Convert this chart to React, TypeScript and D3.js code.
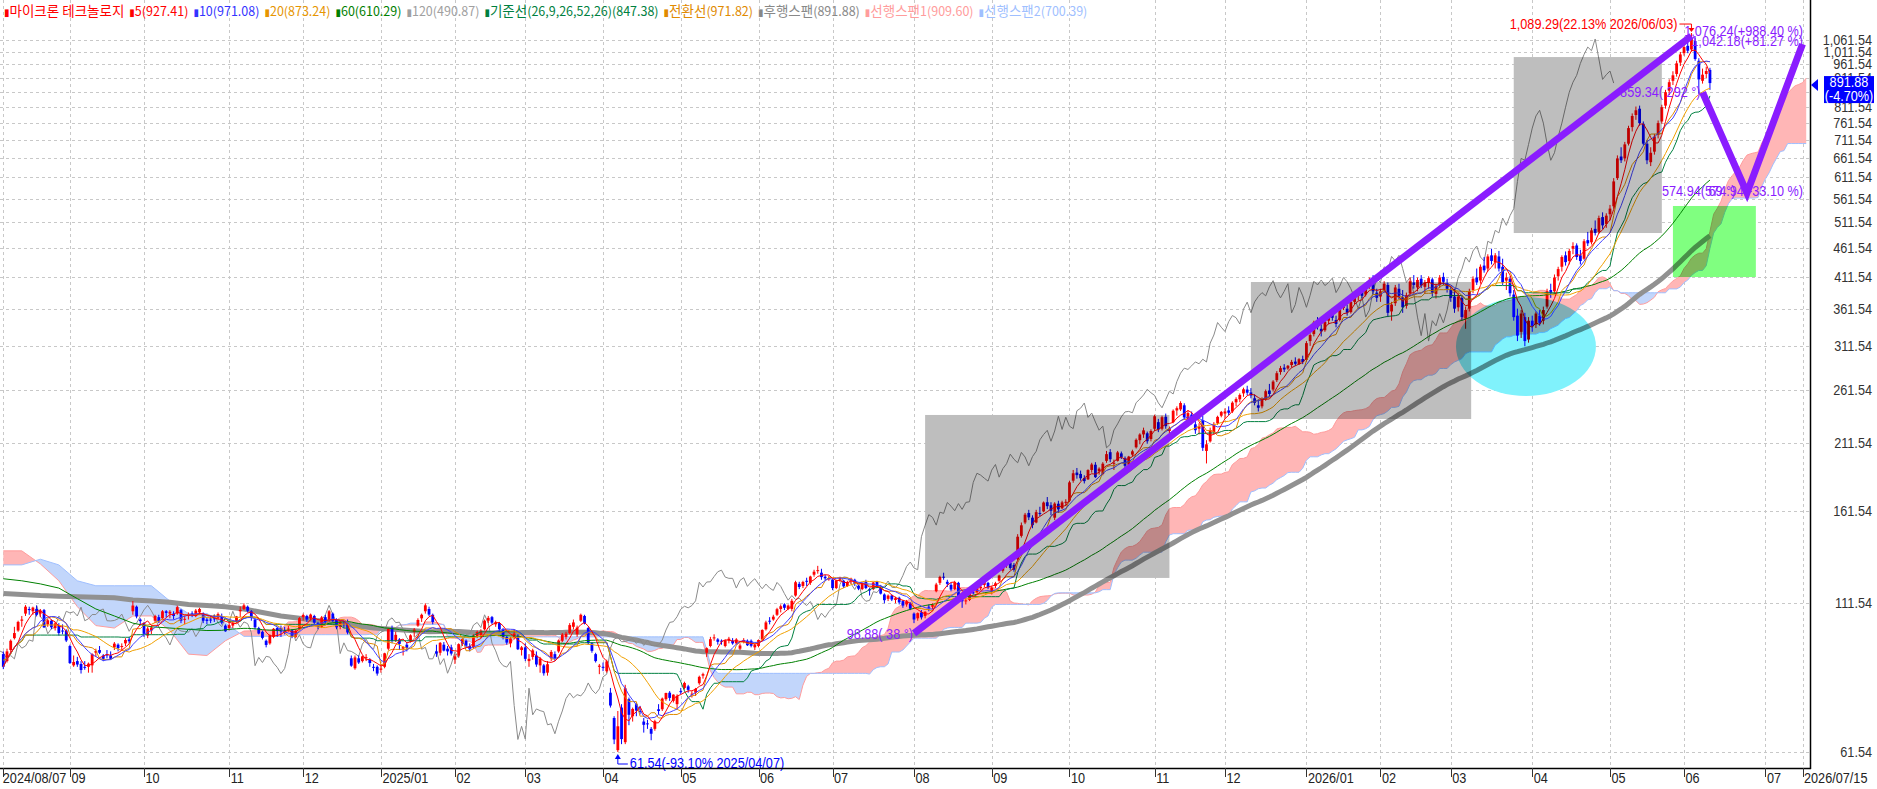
import React from 'react';
import * as d3 from 'd3';

type C = [number, number, number, number]; // open, high, low, close

// daily candles, one array per month
const aug24: C[] = [[91,92,85.7,86.5],[88.5,93,88,92],[92.5,96.5,91.5,96],[97,101.5,96.5,99],[100,104,99.5,103.5],[104,106,101.5,104.5],[107,110.7,106,110],[109,110,106.5,108.5],[108,110,106.5,109.6],[109,110.5,105.8,106.5],[107,109,105.5,108.2],[108.5,109,101,101.3],[102.5,104.8,101.5,104.2],[104,104.5,100.5,101.3],[101,103.5,100,102.9],[102,103,98,99],[100,102.5,98.5,99.6],[100,100.5,95.5,96.1]];
const sep24: C[] = [[94,94.5,87.5,87.8],[87,90.5,86.5,88.2],[88.5,90,86.5,87.3],[87.5,88.5,84.2,85.4],[86.5,88.5,85.5,86.2],[86.5,88,84.5,87.6],[87,91.3,84.5,91],[91.5,93,90,92.2],[92.5,94,91,91.5],[90.5,91,88.5,89.3],[91,92.5,89.5,90.5],[90.5,92,89,89.3],[93.5,95.5,92.5,94.9],[94.5,95,92,93.2],[94,95,92.5,94],[95,97,94,96.3],[96.5,97.5,95,95.8],[108,112.5,106.5,110.5],[110,110.5,105,105.8],[104.5,105,102,103.8]];
const oct24: C[] = [[103,103.5,97.5,98.7],[98,101.5,97,100.8],[100,102,98.5,101.2],[104,106.5,103,106],[105.5,106.5,103,103.8],[105,108.5,104.5,108],[108,108.5,105.5,107.3],[107,108.5,105,107.8],[107,108,104.5,106],[107,110.5,106.5,109.8],[108.5,109,103,104],[104.5,106,102.5,104.8],[106,107.5,104.5,106.6],[107,108,105.5,106.6],[106,109,105.5,108.3],[107.5,109.5,106.5,109],[107,107.5,103,104],[104.5,105.5,102.5,103.9],[104.5,106,103,104.1],[105,106.5,103.5,104.8],[105,107.5,104.5,106.8],[106,107,102.5,103.2],[102,102.5,99.5,99.7]];
const nov24: C[] = [[101,103.5,100,102.2],[102,104,101,103],[103.5,106,103,105.8],[108,110,105.5,108.6],[109,111.5,108.5,110.6],[110,110.5,107.5,108.2],[108,108.5,104,105.2],[104.5,105,100.5,101.3],[101,101.5,98.5,98.8],[99.5,100,96.5,97.1],[96,96.5,93.5,94.4],[95,98.5,94.5,98.1],[97.5,101,97,100.7],[101,101.5,97.5,99.8],[101,102,97.5,99.6],[100,101.5,98.5,99.4],[100.5,102,99.5,100.8],[100,100.5,97,97.6],[97.5,100.5,97,99.9],[101,105.5,100.5,105.1]];
const dec24: C[] = [[105.5,107,104,106.4],[106,106.5,103.5,104.5],[105,107,104,106.6],[106,106.5,102.5,103.2],[103,103.5,100.5,101.5],[101.5,106,101,105.4],[105.5,106.5,103,103.5],[104,108.5,103.5,108],[107,107.5,103.5,103.9],[104.5,105,100.5,101.3],[101.5,104,100.5,103.5],[103,104,101,102.8],[103,104.5,98.5,99.2],[89.5,90.5,86.5,86.9],[86,90.5,85.5,89.8],[89.5,90.5,87.5,88],[88.5,90.5,88,90.2],[89.5,91,88.5,89.9],[89,89.5,86.5,87.8],[86.5,87.5,85,86.3],[86.5,87,83.5,84.2]];
const jan25: C[] = [[85.5,87.5,84.5,85.9],[86.5,91.5,86,91.3],[93,101,92.5,100.6],[101,102,95,95.9],[96,99.5,95.5,98.3],[96.5,97,92.5,94.8],[93,94,90.5,93.6],[94.5,95.5,92,93.3],[96,98.5,95.5,98.1],[99.5,101,97.5,100.4],[102,105,101.5,104.3],[105,107,103.5,106.5],[108,111.5,107,110.6],[109,110,106,106.6],[106.5,107,102.5,103.5],[92,94.5,90,91.2],[91.5,95.5,90.5,95.2],[94.5,95.5,92,92.3],[93,94,90.5,92],[93.5,94.5,90.5,91.2]];
const feb25: C[] = [[89,91,87.5,90.2],[90.5,95,90,94.7],[95,97,94,96.6],[96,96.5,93.5,94.1],[94,95,92,92.8],[93.5,98.5,93,98],[97.5,100,97,99.4],[98,100.5,97,99.9],[100.5,104.5,100,104],[104,106,103,105.2],[105.5,106,102.5,103.2],[102.5,104,101.5,103.4],[103,103.5,99.5,100.5],[100.5,101,96.5,97.2],[97.5,98,94.5,95.3],[95,97.5,93.5,96.9],[97.5,100.5,96.5,98.8],[98,98.5,92.5,92.8],[92.5,94,90.5,93.5]];
const mar25: C[] = [[93.5,95,88.5,89.3],[88.5,91,86.5,89.3],[90,93,89,92.4],[90.5,92,86.5,87.3],[87,90,84.5,89.4],[87,87.5,83.5,84.3],[84.5,88.5,83.5,87.4],[89.5,92.5,88.5,91.8],[91,92,88.5,89.6],[92,96.5,91.5,96.1],[96,99,95.5,98.4],[97.5,99.5,96.5,98.7],[99,103,98.5,102.2],[101.5,104.5,100.5,103.3],[98.5,102,97.5,101.2],[104,107,103.5,106.5],[106,106.5,102.5,103],[101,101.5,94.5,95.1],[95,95.5,91.5,92.2],[91,91.5,88,88.5],[86.5,87.5,84,86.9]];
const apr25: C[] = [[86.5,88,85,86.4],[85,89,84.5,88.4],[78,79.5,73.5,74.1],[70.5,71,63.5,64.7],[62,72.5,61.54,68.2],[73.5,74.5,63.5,64.8],[64,80.5,63.5,79.4],[76,76.5,68.5,71.4],[71,73.5,69.5,73.1],[74.5,75,71,72.6],[72.5,74,71.5,72.3],[69.5,70.5,66.5,68.6],[69,70,67.5,68.9],[67.5,68,64.5,66.2],[67.5,70,67,69.6],[73,74.5,71.5,72.5],[73,76.5,72.5,76.2],[76,78,75.5,77.9],[78,78.5,75.5,76.4],[75.5,77.5,75,77.4],[74.5,77.5,73,77]];
const may25: C[] = [[78.5,79.5,77.5,78.4],[79.5,81.5,79,81.1],[80,80.5,78,78.9],[77.5,78.5,76.5,77.7],[78,79.5,77,79.2],[81,83.5,80.5,83.1],[83.5,84.5,82.5,84],[91.5,93.5,90,93.2],[94,97.5,93.5,96.6],[97,98.5,96,97.3],[96.5,97,94.5,95.6],[96,96.5,94.5,95.7],[94,96.5,93.5,96.2],[96,97.5,95,96.8],[96,97,94.5,95],[95,97,94.5,96.5],[93,95,92.5,94.2],[96,97,95,96.3],[96,96.5,94,94.3],[96,96.5,93.5,94.1],[93.5,95,92.5,94.4]];
const jun25: C[] = [[94,96.5,93.5,96.3],[96.5,100.5,96,100.2],[100.5,104,100,103.3],[104,105.5,102.5,103.6],[104.5,106.5,104,105.7],[106.5,109.5,106,108.9],[109,111,107.5,110.2],[111,111.5,108.5,109.5],[109,111,108.5,110.5],[109,113.5,108,112.6],[115,122,114.5,121.3],[120.5,121.5,118,119],[119.5,122,118.5,121.4],[122,123.5,119.5,121.5],[121,124.5,120,124.1],[125,127.5,124,126.5],[127,129.5,125.5,127.3],[126,128,122.5,123.8],[124,125,122,123.2],[123,124.5,122,123.2]];
const jul25: C[] = [[122.5,123,117.5,118.5],[118.5,122.5,118,122.2],[122.5,124,121.5,123.5],[122,122.5,118.5,119.3],[119.5,122,119,121.4],[122,123.5,120.5,123],[122.5,123,119.5,120.4],[119.5,120,117.5,118.2],[118,121,117.5,120.4],[121.5,122.5,118,118.5],[118,118.5,115,117.4],[118,121.5,117.5,121.2],[121.5,122,118.5,119.3],[119.5,120,115.5,115.9],[115.5,116,111.5,112.9],[113.5,115.5,112.5,115],[115,115.5,112.5,113.2],[113,114.5,111.5,113.8],[114,114.5,111,111.9],[112.5,113,109.5,110.5],[111,113,110,112.3],[111.5,112,108.5,109.1]];
const aug25: C[] = [[107,107.5,103,104.5],[105,107.5,104,107.2],[107.5,108.5,104.5,105.4],[106,108,105,107.8],[110,111,108,109.6],[110,111.5,109,110.7],[117,121,116.5,120.2],[121,124.5,120,123.9],[124,126,122.5,123.6],[121.5,122.5,119,120.5],[120,121,117,117.8],[118,122,117.5,121.3],[121,121.5,113.5,114.2],[113,114.5,109.5,112.4],[112.5,114,111,112.8],[113,117.5,112.5,116.8],[116.5,118,115.5,116.4],[116.5,119,116,118.7],[118.5,120.5,117.5,119.2],[120,122.5,119,121.9],[121,121.5,118,118.9]];
const sep25: C[] = [[117,119.5,115.5,118.7],[119.5,121.5,118.5,120.8],[122,125,121.5,124.6],[127,130.5,126,129.2],[130,132.5,128.5,131.5],[131,132,127.5,128.4],[130,131,126.5,127.5],[133,147,132.5,145.5],[146,154,145,152.3],[154,160,153,158.9],[160,162,155.5,157.2],[157,158.5,150.5,152.4],[154,162,153.5,160.5],[160,164,158,159.7],[161,167.5,160.5,166.8],[167,170.5,162.5,164.4],[165,167,158.5,161.4],[157,167,155.5,166.1],[166,168,160,162.3],[163,168,162.5,166.9],[167,169,164.5,167.3]];
const oct25: C[] = [[168,182,167,180.8],[182,190,180.5,187.5],[188,191.5,183.5,186.1],[187,189.5,182,183.8],[184,186,180,181.7],[183,190.5,182.5,189.9],[190,195.5,188,194.2],[194,196,184,184.6],[189,192,186.5,191],[187,196,186,194.8],[197,205,195.5,202.4],[204,206.5,196,198.3],[195,198,190,195.5],[197,205,196.5,203.8],[203,204.5,198.5,200.1],[199,200.5,190.5,193.2],[194,201,193,200.4],[202,206,200.5,204.7],[208,215.5,207,214.3],[214,220,210.5,218.9],[219,225,216,222.6],[220,221.5,211,213.1],[215,223.5,213,222]];
const nov25: C[] = [[224,237,222,235.5],[230,233,221,223.4],[224,236,222.5,234.6],[235,238,224,226.3],[222,226,215,224.1],[230,242,229,240.7],[241,245,236,243.2],[242,250,240.5,248.3],[246,248,232,234.4],[230,241,226,238.5],[237,240,228,230.1],[228,231,219.5,222.7],[224,229,219,226.4],[232,236,205,207.6],[205,214,195,210.5],[213,225,212,222.8],[221,230,219,228.4],[229,236,227.5,234.9],[236,240.5,234.5,239.6]];
const dec25: C[] = [[238,243,233,240.1],[241,245,236.5,238.8],[240,250,238.5,248.6],[249,254,245,252.2],[252,258,249,256.4],[258,264,254.5,262.3],[262,266,256,258.7],[259,263.5,253,255.9],[253,257,246,248.4],[246,252,240,243.6],[245,254,243,251.8],[252,262,250.5,260.3],[261,268,255,257.4],[262,272,260,270.5],[272,282,270,279.7],[281,288,278,285.4],[286,290,281,283.9],[285,289,283.5,288.1],[289,295,286,292.6],[293,298,288,290.4],[290,297,289,295.8],[296,300,290,292.5]];
const jan26: C[] = [[295,318,293,315.4],[318,328,312,325.8],[327,345,324,342.5],[344,350,333,336.1],[334,340,324,330.4],[332,346,330,343.6],[345,356,340,352.2],[353,360,345,349.1],[346,352,336,340.5],[346,364,344,361.3],[363,375,360,371.6],[362,368,352,356.2],[357,374,355,371.9],[372,384,368,380],[381,390,374,386],[387,394,378,381],[383,398,380,395],[397,410,392,405],[406,414,384,388],[386,392,372,378]];
const feb26: C[] = [[380,392,372,388],[390,404,386,400],[398,402,350,356],[358,372,345,368],[370,398,366,394],[392,400,376,381],[379,390,356,364],[366,386,362,382],[385,410,381,404],[402,414,392,398],[394,410,388,406],[408,414,393,397],[395,406,384,402],[401,412,392,409],[407,410,380,386],[384,400,377,396],[398,414,393,410],[411,418,398,403],[401,408,386,392]];
const mar26: C[] = [[390,396,372,378],[380,392,356,362],[364,385,358,380],[378,382,345,350],[348,365,334,360],[362,392,358,388],[390,412,385,408],[410,425,398,402],[405,432,400,428],[430,445,418,422],[425,450,420,446],[448,460,432,438],[436,452,425,448],[446,456,420,425],[428,442,398,402],[405,418,390,410],[408,412,380,385],[383,390,345,350],[352,362,318,325],[330,360,322,355],[350,356,311.49,318],[320,350,316,345]];
const apr26: C[] = [[345,352,330,338],[340,358,335,355],[352,360,338,342],[345,365,340,360],[365,392,362,388],[390,400,378,385],[388,415,384,410],[412,428,405,424],[428,448,420,445],[448,455,430,436],[438,460,432,456],[460,472,450,465],[466,470,440,445],[448,458,432,438],[442,478,440,474],[476,492,465,470],[472,500,468,495],[498,515,485,490],[492,525,488,520],[522,532,498,505],[508,530,500,525]];
const may26: C[] = [[528,548,515,540],[545,610,540,602],[610,668,605.47,660],[665,690,648,655],[660,705,652,698],[700,752,695,745],[748,790,735,782],[785,812,770,800],[805,815,752,760],[758,765,695,700],[700,710,645,655],[650,690,640,675],[678,728,670,720],[725,768,715,760],[765,818,758,810],[815,868,805,860],[865,905,850,895],[900,935,885,920],[925,975,915,965],[968,1010,955,1000]];
const jun26: C[] = [[1005,1045,995,1030],[1035,1050,1005,1015],[1020,1089.29,1012,1063.75],[1055,1068,975,982],[975,985,854.35,905],[900,945,890,922.3],[925,952,910,935.87],[940,948,868,891.88]];

const candles: C[] = [...aug24, ...sep24, ...oct24, ...nov24, ...dec24, ...jan25, ...feb25, ...mar25, ...apr25, ...may25, ...jun25, ...jul25, ...aug25, ...sep25, ...oct25, ...nov25, ...dec25, ...jan26, ...feb26, ...mar26, ...apr26, ...may26, ...jun26];

// US market holidays inside the data range (future part of the axis counts all weekdays)
const holidays = ['2024-09-02','2024-11-28','2024-12-25','2025-01-01','2025-01-09','2025-01-20','2025-02-17','2025-04-18','2025-05-26','2025-06-19','2025-07-04','2025-09-01','2025-11-27','2025-12-25','2026-01-01','2026-01-19','2026-02-16','2026-04-03','2026-05-25'];

// long averages / cloud before their windows fill, read every 5 bars
const LEAD_STEP = 5;
const ma60Lead = [123, 122, 120.5, 118.5, 113.6, 109, 106, 103, 101.5, 101, 100.5, 100];
const ma120Lead = [116, 115.5, 115, 114.7, 114.5, 114.2, 114, 113, 112.5, 112, 111, 110.5, 110, 109, 107.5, 106, 105, 104, 103, 102, 101, 100.5, 100, 99.5];
const span1Lead = [137.5, 137.5, 130.5, 122, 110, 102, 101, 106, 106, 100, 91, 90.5, 96, 99.8, 100, 100.5];
const span2Lead = [130, 130, 133, 130, 122, 119.6, 119.6, 119.6, 119.6, 112.5, 107, 107, 103, 97.7, 97.7, 97.7];

const yTicks = [61.54, 111.54, 161.54, 211.54, 261.54, 311.54, 361.54, 411.54, 461.54, 511.54, 561.54, 611.54, 661.54, 711.54, 761.54, 811.54, 861.54, 911.54, 961.54, 1011.54, 1061.54];

const legend = [
  { ko: '마이크론 테크놀로지', rest: '', color: '#ff0000' },
  { ko: '', rest: '5(927.41)', color: '#ff0000' },
  { ko: '', rest: '10(971.08)', color: '#3333ff' },
  { ko: '', rest: '20(873.24)', color: '#e69500' },
  { ko: '', rest: '60(610.29)', color: '#008000' },
  { ko: '', rest: '120(490.87)', color: '#a0a0a0' },
  { ko: '기준선', rest: '(26,9,26,52,26)(847.38)', color: '#008040' },
  { ko: '전환선', rest: '(971.82)', color: '#e08a00' },
  { ko: '후행스팬', rest: '(891.88)', color: '#888888' },
  { ko: '선행스팬', rest: '1(909.60)', color: '#ff9c9c' },
  { ko: '선행스팬', rest: '2(700.39)', color: '#9fbfff' },
];

const changeText = '(-4.70%)';
const highNote = { i: 456, v: 1089.29, text: '1,089.29(22.13% 2026/06/03)' };
const lowNote = { i: 166, v: 61.54, text: '61.54(-93.10% 2025/04/07)' };

const trendLine = [{ i: 246, v: 98.88 }, { i: 456, v: 1076.24 }];
const vLine = [{ i: 459, v: 859.34 }, { i: 471, v: 574.94 }, { i: 486, v: 1042.18 }];
const greyBoxes = [
  { i0: 249, i1: 315, lo: 123.4, hi: 236.7 },
  { i0: 337, i1: 396.5, lo: 232.9, hi: 402.7 },
  { i0: 408, i1: 448, lo: 489.8, hi: 989.6 },
];
const greenBox = { i0: 451, i1: 473.4, lo: 410.8, hi: 545.7 };
const cyanEllipse = { i0: 392.4, i1: 430.2, lo: 255.3, hi: 379.2 };

const FONT = '"Liberation Sans Narrow", "Noto Sans CJK KR", "DejaVu Sans", sans-serif';
const AXIS_FONT = '"Liberation Sans", sans-serif';
const PURPLE = '#8a1cff';
const R = 1810, B = 768;

// condensed text, close to the terminal's narrow bitmap font
function CText(props: { x: number; y: number; anchor?: string; fill?: string; size?: number; children: React.ReactNode }) {
  const { x, y, anchor = 'start', fill = '#222', size = 14.5, children } = props;
  return (
    <text transform={`translate(${x},${y}) scale(0.875,1)`} textAnchor={anchor} fill={fill} fontSize={size} fontFamily={AXIS_FONT}>
      {children}
    </text>
  );
}

function buildDays() {
  const hol = new Set(holidays);
  const out: Date[] = [];
  const d = new Date(Date.UTC(2024, 7, 7));
  const end = Date.UTC(2026, 6, 15);
  while (d.getTime() <= end) {
    const wd = d.getUTCDay();
    if (wd !== 0 && wd !== 6 && !hol.has(d.toISOString().slice(0, 10))) out.push(new Date(d));
    d.setUTCDate(d.getUTCDate() + 1);
  }
  return out;
}

export default function App() {
  const days = buildDays();
  const x = d3.scaleLinear().domain([0, days.length - 1]).range([3.3, 1802.5]);
  const y = d3.scaleLog().domain([61.54, 1061.54]).range([752, 39.5]);

  const closes = candles.map(c => c[3]);
  const highs = candles.map(c => c[1]);
  const lows = candles.map(c => c[2]);
  const n = candles.length;
  const idx = d3.range(n);

  const sma = (i: number, len: number) => d3.mean(closes.slice(Math.max(0, i - len + 1), i + 1)) as number;
  const mid = (i: number, len: number) => {
    const a = Math.max(0, i - len + 1);
    return ((d3.max(highs.slice(a, i + 1)) as number) + (d3.min(lows.slice(a, i + 1)) as number)) / 2;
  };

  const ma5 = idx.map(i => [i, sma(i, 5)] as [number, number]);
  const ma10 = idx.map(i => [i, sma(i, 10)] as [number, number]);
  const ma20 = idx.map(i => [i, sma(i, 20)] as [number, number]);
  const ma60 = ma60Lead.map((v, k) => [k * LEAD_STEP, v] as [number, number])
    .concat(idx.filter(i => i >= 59).map(i => [i, sma(i, 60)] as [number, number]));
  const ma120 = ma120Lead.map((v, k) => [k * LEAD_STEP, v] as [number, number])
    .concat(idx.filter(i => i >= 119).map(i => [i, sma(i, 120)] as [number, number]));
  const tenkan = idx.map(i => [i, mid(i, 9)] as [number, number]);
  const kijun = idx.map(i => [i, mid(i, 26)] as [number, number]);
  const lagging = idx.map(i => [i - 26, closes[i]] as [number, number]);

  const cloud = span1Lead.map((a, k) => ({ j: k * LEAD_STEP, a, b: span2Lead[k] }))
    .concat(idx.filter(i => i >= 51).map(i => ({ j: i + 26, a: (mid(i, 9) + mid(i, 26)) / 2, b: mid(i, 52) })));

  const line = d3.line<[number, number]>().x(d => x(d[0])).y(d => y(d[1]));

  // cloud fill split by which span is on top
  type CP = { x: number; ya: number; yb: number };
  const pts: CP[] = cloud.map(p => ({ x: x(p.j), ya: y(p.a), yb: y(p.b) }));
  const runs: { pos: boolean; pts: CP[] }[] = [];
  let cur: { pos: boolean; pts: CP[] } | null = null;
  pts.forEach((p, k) => {
    const s = p.ya <= p.yb;
    if (!cur) { cur = { pos: s, pts: [p] }; return; }
    if (s === cur.pos) { cur.pts.push(p); return; }
    const q = pts[k - 1];
    const d0 = q.ya - q.yb, d1 = p.ya - p.yb;
    const t = d0 / (d0 - d1);
    const c = { x: q.x + (p.x - q.x) * t, ya: q.ya + (p.ya - q.ya) * t, yb: q.ya + (p.ya - q.ya) * t };
    cur.pts.push(c);
    runs.push(cur);
    cur = { pos: s, pts: [c, p] };
  });
  if (cur) runs.push(cur);
  const runPath = (r: { pts: CP[] }) =>
    'M' + r.pts.map(p => `${p.x},${p.ya}`).join('L') + 'L' + r.pts.slice().reverse().map(p => `${p.x},${p.yb}`).join('L') + 'Z';

  const monthTicks: { i: number; label: string }[] = [{ i: 0, label: '2024/08/07' }];
  for (let i = 1; i < days.length; i++) {
    const m = days[i].getUTCMonth();
    if (m !== days[i - 1].getUTCMonth()) {
      monthTicks.push({ i, label: m === 0 ? `${days[i].getUTCFullYear()}/01` : String(m + 1).padStart(2, '0') });
    }
  }
  const lastI = days.length - 1;
  const endLabel = `${days[lastI].getUTCFullYear()}/${String(days[lastI].getUTCMonth() + 1).padStart(2, '0')}/${String(days[lastI].getUTCDate()).padStart(2, '0')}`;
  const xLabels = [...monthTicks, { i: lastI, label: endLabel }];

  const lastClose = closes[n - 1];
  const yl = y(lastClose);
  const fmt = d3.format(',.2f');

  const hx = x(highNote.i), hy = y(highNote.v);
  const lx = x(lowNote.i), ly = y(lowNote.v);
  const xe = x(vLine[2].i) + 0.5;

  return (
    <>
      <style>{'body{margin:0}'}</style>
      <svg width={1877} height={789} style={{ display: 'block', background: '#fff' }} fontFamily={FONT}>
        <defs>
          <clipPath id="plot"><rect x={0} y={0} width={R} height={B} /></clipPath>
        </defs>

        {/* grid */}
        <g stroke="#c8c8c8" strokeDasharray="3,3" strokeWidth={1}>
          {yTicks.map(v => <line key={v} x1={0} x2={R} y1={Math.round(y(v)) + 0.5} y2={Math.round(y(v)) + 0.5} />)}
          {xLabels.map(t => <line key={t.i} x1={Math.round(x(t.i)) + 0.5} x2={Math.round(x(t.i)) + 0.5} y1={0} y2={B} />)}
        </g>

        <g clipPath="url(#plot)">
          {/* ichimoku cloud */}
          {runs.map((r, k) => <path key={k} d={runPath(r)} fill={r.pos ? '#ffb6b6' : '#c2d6fb'} />)}
          <path d={line(cloud.map(p => [p.j, p.a] as [number, number])) as string} fill="none" stroke="#ff9c9c" strokeWidth={1} />
          <path d={line(cloud.map(p => [p.j, p.b] as [number, number])) as string} fill="none" stroke="#9fbfff" strokeWidth={1} />

          <path d={line(ma120) as string} fill="none" stroke="#919191" strokeWidth={5} />
          <path d={line(lagging) as string} fill="none" stroke="#8a8a8a" strokeWidth={1} />

          {/* candles */}
          {candles.map(([o, h, l, c], i) => {
            const col = c >= o ? '#ff0000' : '#0000ff';
            const top = y(Math.max(o, c));
            const hgt = Math.max(1, Math.abs(y(o) - y(c)));
            return (
              <g key={i}>
                <line x1={x(i)} x2={x(i)} y1={y(h)} y2={y(l)} stroke={col} strokeWidth={1} />
                <rect x={x(i) - 1.4} y={top} width={2.8} height={hgt} fill={col} />
              </g>
            );
          })}

          <path d={line(ma60) as string} fill="none" stroke="#008000" strokeWidth={1} />
          <path d={line(kijun) as string} fill="none" stroke="#008040" strokeWidth={1} />
          <path d={line(tenkan) as string} fill="none" stroke="#e08a00" strokeWidth={1} />
          <path d={line(ma20) as string} fill="none" stroke="#f0a000" strokeWidth={1} />
          <path d={line(ma10) as string} fill="none" stroke="#4040ff" strokeWidth={1} />
          <path d={line(ma5) as string} fill="none" stroke="#ff0000" strokeWidth={1} />

          {/* drawn annotations */}
          {greyBoxes.map((b, k) => (
            <rect key={k} x={x(b.i0)} y={y(b.hi)} width={x(b.i1) - x(b.i0)} height={y(b.lo) - y(b.hi)}
              fill="#bebebe" style={{ mixBlendMode: 'multiply' }} />
          ))}
          <ellipse cx={(x(cyanEllipse.i0) + x(cyanEllipse.i1)) / 2} cy={(y(cyanEllipse.lo) + y(cyanEllipse.hi)) / 2}
            rx={(x(cyanEllipse.i1) - x(cyanEllipse.i0)) / 2} ry={(y(cyanEllipse.lo) - y(cyanEllipse.hi)) / 2}
            fill="#80f2fc" style={{ mixBlendMode: 'multiply' }} />
          <rect x={x(greenBox.i0)} y={y(greenBox.hi)} width={x(greenBox.i1) - x(greenBox.i0)} height={y(greenBox.lo) - y(greenBox.hi)}
            fill="#80ff80" style={{ mixBlendMode: 'multiply' }} />

          <path d={line(trendLine.map(p => [p.i, p.v] as [number, number])) as string} fill="none" stroke={PURPLE} strokeWidth={7} />
          <path d={line(vLine.map(p => [p.i, p.v] as [number, number])) as string} fill="none" stroke={PURPLE} strokeWidth={7} strokeLinejoin="miter" />
        </g>

        {/* annotation texts */}
        <CText x={x(trendLine[0].i) - 1} y={y(trendLine[0].v) + 6} anchor="end" fill={PURPLE}>{`${fmt(trendLine[0].v)}( 38 °)`}</CText>
        <CText x={xe} y={y(trendLine[1].v)} anchor="end" fill={PURPLE}>{`${fmt(trendLine[1].v)}(+988.40 %)`}</CText>
        <CText x={xe} y={y(vLine[2].v) + 2} anchor="end" fill={PURPLE}>{`${fmt(vLine[2].v)}(+81.27 %)`}</CText>
        <CText x={x(vLine[0].i) - 2} y={y(vLine[0].v) + 5} anchor="end" fill={PURPLE}>{`${fmt(vLine[0].v)}( 292 °)`}</CText>
        <CText x={x(vLine[1].i) - 85} y={y(vLine[1].v) + 3} fill={PURPLE}>{`${fmt(vLine[1].v)}( 69 °)`}</CText>
        <CText x={xe} y={y(vLine[1].v) + 3} anchor="end" fill={PURPLE}>{`${fmt(vLine[1].v)}(-33.10 %)`}</CText>

        <CText x={hx - 14} y={hy - 4} anchor="end" fill="#ff0000">{highNote.text}</CText>
        <path d={`M${hx - 12},${hy - 9}H${hx}V${hy - 2}`} fill="none" stroke="#ff0000" strokeWidth={1} />
        <path d={`M${hx - 3},${hy - 5}L${hx + 3},${hy - 5}L${hx},${hy - 1}Z`} fill="#ff0000" />

        <path d={`M${lx},${ly + 6}V${ly + 12}H${lx + 10}`} fill="none" stroke="#0000ff" strokeWidth={1} />
        <path d={`M${lx - 3},${ly + 7}L${lx + 3},${ly + 7}L${lx},${ly + 2}Z`} fill="#0000ff" />
        <CText x={lx + 12} y={ly + 16} fill="#0000ff">{lowNote.text}</CText>

        {/* frame */}
        <line x1={R + 0.5} x2={R + 0.5} y1={0} y2={B + 1} stroke="#000" strokeWidth={1.5} />
        <line x1={0} x2={R + 1} y1={B + 0.5} y2={B + 0.5} stroke="#000" strokeWidth={1.5} />

        {/* x axis */}
        {xLabels.map(t => (
          <g key={t.i}>
            <line x1={Math.round(x(t.i)) + 0.5} x2={Math.round(x(t.i)) + 0.5} y1={B} y2={B + 9} stroke="#333" />
            <CText x={t.i === 0 ? x(t.i) - 0.5 : x(t.i) + 1.5} y={B + 15}>{t.label}</CText>
          </g>
        ))}

        {/* y axis */}
        {yTicks.map(v => <CText key={v} x={1872} y={y(v) + 5} anchor="end" fill="#333">{fmt(v)}</CText>)}

        {/* last price marker */}
        <path d={`M${R + 1},${yl + 2}L${R + 8},${yl - 4}L${R + 8},${yl + 8}Z`} fill="#0000ff" />
        <rect x={1824} y={yl - 7} width={50} height={27} fill="#0000ff" />
        <CText x={1849} y={yl + 4} anchor="middle" fill="#fff">{fmt(lastClose)}</CText>
        <CText x={1849} y={yl + 18} anchor="middle" fill="#fff">{changeText}</CText>

        {/* legend */}
        <text x={4} y={16} fontSize={12.5}>
          {legend.map((l, k) => (
            <React.Fragment key={k}>
              <tspan fill={l.color} dx={k ? 5 : 0} fontFamily="DejaVu Sans" fontSize={10}>▮</tspan>
              {l.ko && <tspan fill={l.color} fontSize={13.5}>{l.ko}</tspan>}
              {l.rest && <tspan fill={l.color}>{l.rest}</tspan>}
            </React.Fragment>
          ))}
        </text>
      </svg>
    </>
  );
}
